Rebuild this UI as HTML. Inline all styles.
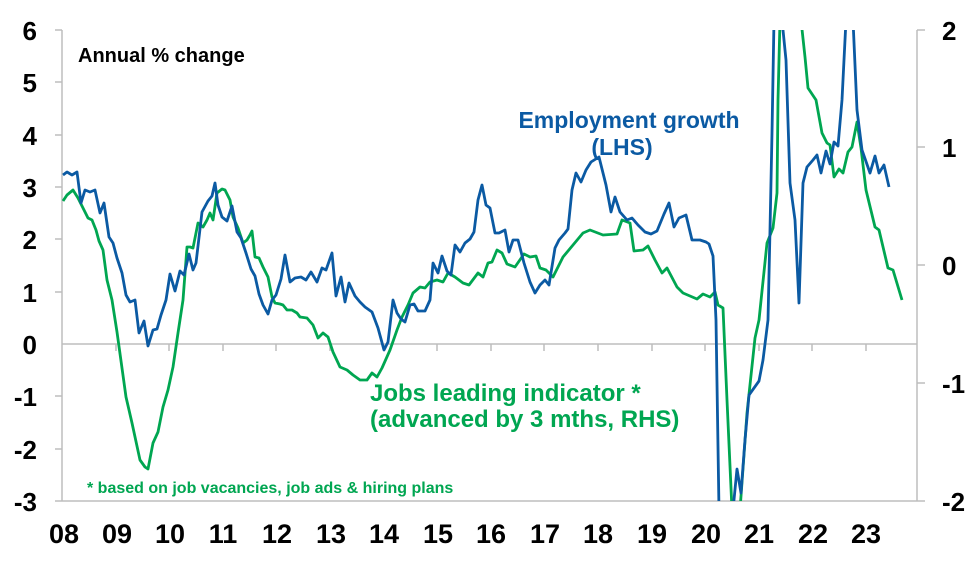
<!DOCTYPE html><html><head><style>body{margin:0;background:#fff}svg text{font-family:"Liberation Sans",Arial,sans-serif;font-weight:bold}</style></head><body>
<svg width="979" height="563" viewBox="0 0 979 563">
<defs><clipPath id="c"><rect x="62" y="30" width="856" height="471"/></clipPath></defs>
<g stroke="#bdbdbd" stroke-width="1.5" fill="none">
<line x1="62" y1="30" x2="62" y2="501"/><line x1="917" y1="30" x2="917" y2="501"/>
<line x1="55" y1="501" x2="917" y2="501"/><line x1="62" y1="344" x2="917" y2="344"/>
<path d="M55 30H62M55 82H62M55 135H62M55 187H62M55 239H62M55 292H62M55 396H62M55 449H62M917 30H925M917 147H925M917 265H925M917 383H925M917 501H925"/>
<path d="M116 344v7M169 344v7M223 344v7M276 344v7M330 344v7M384 344v7M437 344v7M491 344v7M544 344v7M598 344v7M652 344v7M705 344v7M759 344v7M812 344v7M866 344v7"/>
</g>
<g font-size="26" fill="#000" text-anchor="end">
<text x="37" y="40">6</text><text x="37" y="92">5</text><text x="37" y="145">4</text><text x="37" y="197">3</text><text x="37" y="249">2</text><text x="37" y="302">1</text><text x="37" y="354">0</text><text x="37" y="406">-1</text><text x="37" y="459">-2</text><text x="37" y="511">-3</text>
</g>
<g font-size="26" fill="#000">
<text x="942" y="40">2</text><text x="942" y="157">1</text><text x="942" y="275">0</text><text x="942" y="393">-1</text><text x="942" y="511">-2</text>
</g>
<g font-size="27" fill="#000" text-anchor="middle">
<text x="64" y="543">08</text><text x="117" y="543">09</text><text x="170" y="543">10</text><text x="223" y="543">11</text><text x="277" y="543">12</text><text x="331" y="543">13</text><text x="384" y="543">14</text><text x="438" y="543">15</text><text x="491" y="543">16</text><text x="545" y="543">17</text><text x="598" y="543">18</text><text x="652" y="543">19</text><text x="706" y="543">20</text><text x="759" y="543">21</text><text x="813" y="543">22</text><text x="866" y="543">23</text>
</g>
<g clip-path="url(#c)" fill="none" stroke-width="2.8" stroke-linejoin="round">
<polyline stroke="#00a651" points="63,201 67,195 73,190 78,198 83,208 88,218 92,220 96,230 99,241 103,250 107,280 112,300 117,332 126,397 132,423 140,460 145,467 148,469 153,443 158,432 163,407 168,390 173,367 178,333 183,300 187,247 190,247 193,248 198,223 203,227 207,220 210,213 213,220 217,193 222,189 225,190 230,200 233,217 238,228 243,243 247,240 250,235 252,231 255,257 259,258 263,267 268,277 272,297 275,303 280,304 283,305 287,310 292,310 297,313 300,317 307,318 313,325 318,338 323,333 328,337 333,352 340,367 347,370 353,375 360,380 367,380 372,373 377,377 382,368 390,350 397,330 402,317 408,305 413,293 420,287 425,288 430,282 437,280 443,282 448,273 455,277 463,283 469,285 478,273 483,277 488,263 492,262 497,250 502,253 507,264 515,267 524,254 530,257 536,256 540,268 546,270 553,277 563,257 573,245 583,233 590,230 603,235 617,234 622,220 630,223 634,251 643,250 648,246 655,260 662,273 667,268 677,287 683,293 697,299 703,294 710,297 715,292 718,305 723,308 727,400 732,510 740,510 747,413 755,338 759,320 767,243 773,228 777,193 778,100 780,20 801,20 805,57 808,88 816,100 822,133 827,143 830,145 834,177 839,169 843,173 848,152 852,147 857,122 861,148 866,190 875,227 879,230 888,268 893,270 902,300"/>
<polyline stroke="#0b5aa3" points="63,175 67,172 72,175 77,172 81,203 85,190 90,192 95,190 100,213 104,203 109,237 113,243 117,258 122,273 126,295 130,302 135,300 139,333 144,321 148,346 153,330 157,329 161,315 166,300 170,274 175,291 180,271 184,275 189,254 193,270 196,263 202,212 208,201 212,196 215,183 218,205 222,217 227,221 232,206 237,232 241,238 246,253 251,269 255,276 259,294 263,305 268,314 272,300 276,295 281,279 285,255 290,282 295,278 301,277 306,280 311,272 317,282 322,268 326,270 332,253 336,296 341,277 345,302 349,283 355,296 360,302 365,307 372,312 378,328 384,350 388,342 393,300 397,313 401,319 405,322 410,305 414,304 418,311 425,311 430,300 433,263 438,273 442,256 447,271 451,275 455,245 460,252 465,243 470,239 474,232 478,200 482,185 486,205 490,208 495,233 499,233 505,230 509,252 513,240 518,240 524,263 530,282 535,293 540,285 545,280 549,285 555,248 559,240 565,233 568,229 572,190 576,173 581,182 586,170 591,162 599,157 606,185 611,212 615,197 620,212 627,220 632,218 638,225 645,232 651,234 657,231 664,214 669,203 674,227 679,218 686,215 692,240 700,240 706,242 709,244 713,256 716,320 719,510 733,510 737,469 741,493 745,440 749,395 759,381 763,360 768,320 770,230 772,133 774,20 782,20 786,60 790,183 795,220 799,303 803,183 807,167 813,160 817,155 821,173 826,151 830,164 834,142 838,146 842,100 846,20 853,20 857,110 862,150 870,173 875,156 879,173 884,165 889,187"/>
</g>
<text x="78" y="62" font-size="20" fill="#000">Annual % change</text>
<g font-size="23" fill="#0b5aa3" text-anchor="middle"><text x="629" y="128">Employment growth</text><text x="622" y="155">(LHS)</text></g>
<g font-size="24" fill="#00a651"><text x="370" y="401">Jobs leading indicator *</text><text x="370" y="427">(advanced by 3 mths, RHS)</text></g>
<text x="87" y="493" font-size="16" fill="#00a651">* based on job vacancies, job ads &amp; hiring plans</text>
</svg></body></html>
